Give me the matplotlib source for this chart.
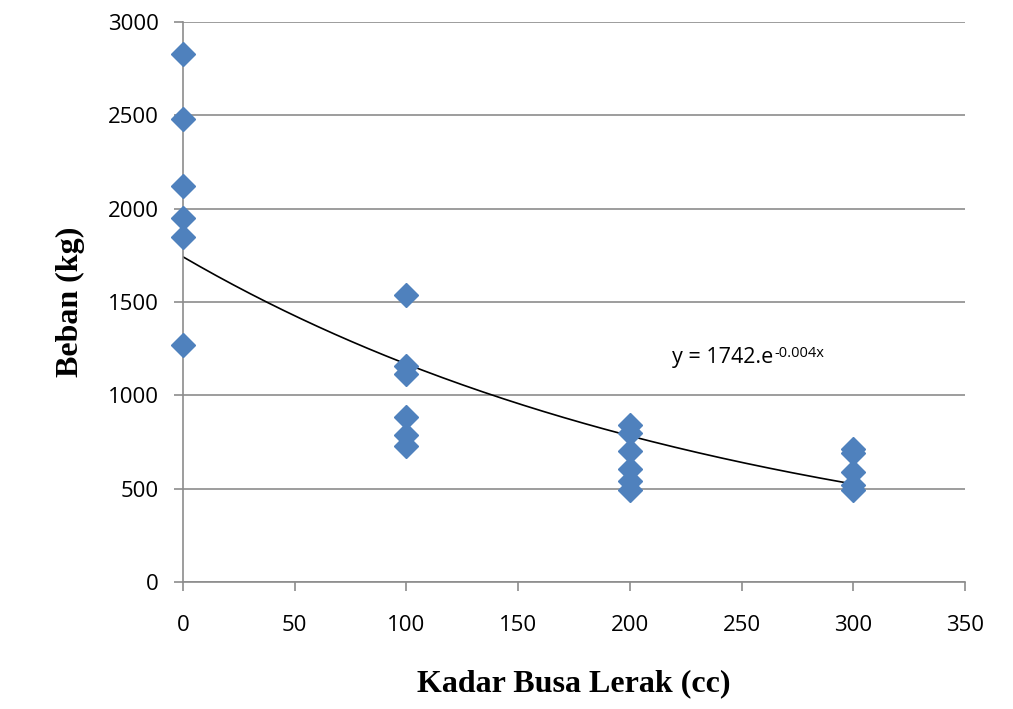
import matplotlib.pyplot as plt
import numpy as np

# load tests per foam level
kadar_0 = [2830, 2480, 2120, 1950, 1850, 1270]
kadar_100 = [1540, 1155, 1115, 885, 785, 728]
kadar_200 = [840, 800, 700, 605, 540, 495]
kadar_300 = [710, 690, 590, 520, 495]

# exponential trend: y = a * exp(b * x)
trend_a = 1742
trend_b = -0.004

x_pts = [0] * len(kadar_0) + [100] * len(kadar_100) + [200] * len(kadar_200) + [300] * len(kadar_300)
y_pts = kadar_0 + kadar_100 + kadar_200 + kadar_300

tick_font = 'Open Sans'
grey = '#8c8c8c'

fig = plt.figure(figsize=(10.13, 7.09), dpi=100)
ax = fig.add_axes([183 / 1013, 1 - 582 / 709, (965 - 183) / 1013, (582 - 22) / 709])

ax.set_xlim(0, 350)
ax.set_ylim(0, 3000)
ax.set_xticks(np.arange(0, 351, 50))
ax.set_yticks(np.arange(0, 3001, 500))
ax.yaxis.grid(True, color=grey, linewidth=1.2)
ax.set_axisbelow(True)

for side in ['top', 'right']:
    ax.spines[side].set_visible(False)
for side in ['left', 'bottom']:
    ax.spines[side].set_color(grey)
    ax.spines[side].set_linewidth(1.2)
ax.tick_params(axis='both', color=grey, width=1.2, length=6.5, labelsize=16)
ax.tick_params(axis='y', pad=11)
ax.tick_params(axis='x', pad=17)
for lab in ax.get_xticklabels() + ax.get_yticklabels():
    lab.set_family(tick_font)

xs = np.linspace(0, 300, 200)
ax.plot(xs, trend_a * np.exp(trend_b * xs), color='black', linewidth=1.2, zorder=2)
ax.plot(x_pts, y_pts, linestyle='none', marker='D', markersize=12,
        color='#4f81bd', markeredgecolor='#4f81bd', clip_on=False, zorder=3)

# equation label, exponent drawn as a separate superscript
eq = ax.text(219, 1205, 'y = %d.e' % trend_a, fontsize=15.5, family=tick_font,
             ha='left', va='center')
ax.annotate('%.3fx' % trend_b, xy=(1, 0.5), xycoords=eq, xytext=(0.5, 0),
            textcoords='offset points', fontsize=10.5, family=tick_font,
            ha='left', va='baseline')

ax.set_xlabel('Kadar Busa Lerak (cc)', family='Liberation Serif', fontweight='bold',
              fontsize=23, labelpad=24)
ax.set_ylabel('Beban (kg)', family='Liberation Serif', fontweight='bold',
              fontsize=23, labelpad=16)

fig.savefig('out.png', dpi=100)
